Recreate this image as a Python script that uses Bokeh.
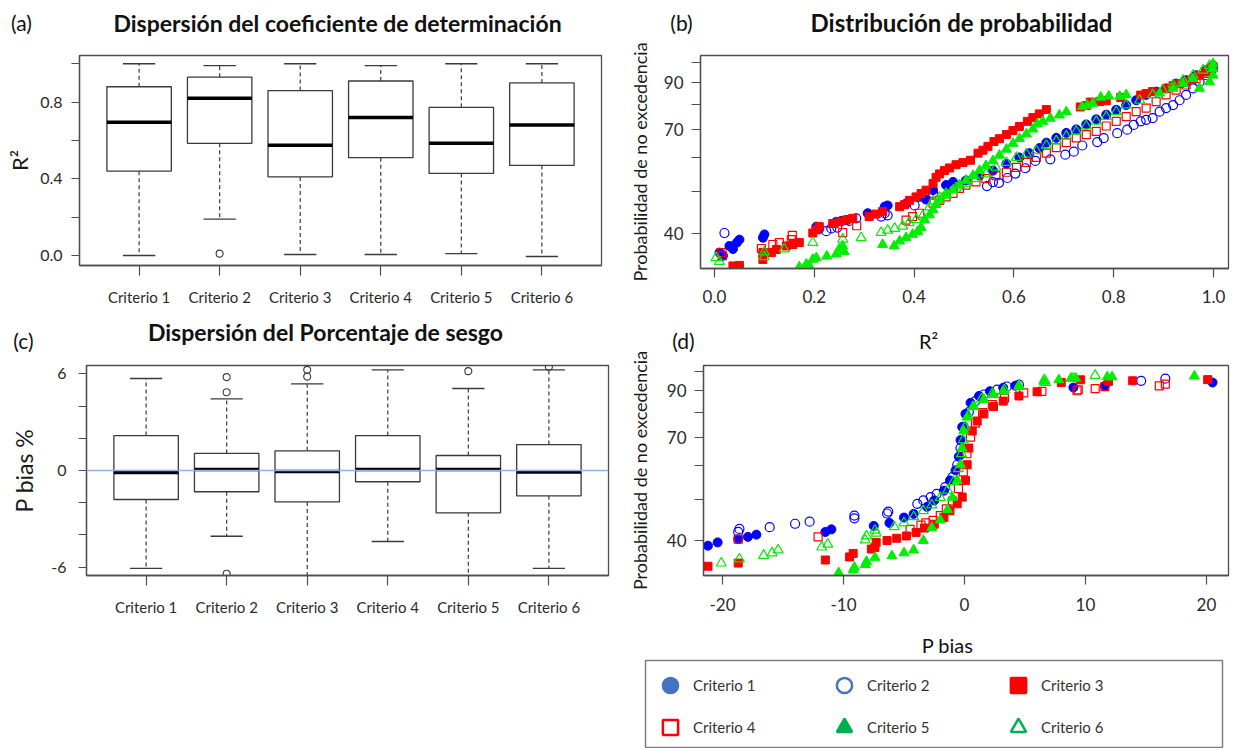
import math
import numpy as np
from bokeh.plotting import figure
from bokeh.models import (ColumnDataSource, FixedTicker, Span, Legend,
                          LegendItem, Range1d)
from bokeh.core.properties import value
from bokeh.layouts import row, column
from bokeh.embed import file_html
from bokeh.resources import INLINE

FONT = "Lato"
AX = "#4d4d4d"
TXT = "#2b2b2b"

# ---------------- data ----------------
criteria = ["Criterio 1", "Criterio 2", "Criterio 3", "Criterio 4", "Criterio 5", "Criterio 6"]
crit_pos = [1, 2, 3, 4, 5, 6]

# (a) R2 box statistics
r2_low = [0.0, 0.19, 0.005, 0.005, 0.01, -0.005]
r2_q1 = [0.44, 0.585, 0.41, 0.51, 0.428, 0.47]
r2_med = [0.695, 0.82, 0.575, 0.72, 0.585, 0.68]
r2_q3 = [0.88, 0.93, 0.86, 0.91, 0.773, 0.90]
r2_up = [1.0, 0.99, 1.0, 0.99, 1.0, 1.0]
r2_out_x = [2]
r2_out_y = [0.01]

# (c) P bias box statistics
pb_low = [-6.08, -4.08, -7.5, -4.41, -7.5, -6.08]
pb_q1 = [-1.8, -1.32, -1.95, -0.7, -2.63, -1.57]
pb_med = [-0.12, 0.06, -0.06, 0.06, 0.06, -0.1]
pb_q3 = [2.17, 1.06, 1.22, 2.17, 0.93, 1.61]
pb_up = [5.71, 4.45, 5.38, 6.25, 5.09, 6.25]
pb_out_x = [2, 2, 2, 3, 3, 5, 6]
pb_out_y = [5.8, 4.86, -6.41, 5.83, 6.25, 6.17, 6.45]

# (b) R2 vs probability of non-exceedance (%)
b_c1 = [(0.010,36.0),(0.017,35.4),(0.030,37.3),(0.037,36.7),(0.045,38.0),(0.050,38.6),(0.097,39.0),(0.100,39.7),(0.204,41.4),(0.210,40.9),(0.244,42.5),(0.254,42.7),(0.264,42.9),(0.307,44.5),(0.341,46.1),(0.347,46.4),(0.384,46.9),(0.411,48.6),(0.424,47.9),(0.438,50.4),(0.464,51.8),(0.478,52.7),(0.504,53.1),(0.531,54.5),(0.558,56.0),(0.585,58.1),(0.611,60.1),(0.631,61.5),(0.651,63.2),(0.665,65.1),(0.685,66.8),(0.705,68.6),(0.725,69.9),(0.745,71.8),(0.765,73.8),(0.785,75.7),(0.805,77.7),(0.825,79.7),(0.845,81.8),(0.865,84.2),(0.885,85.7),(0.905,87.2),(0.925,89.5),(0.945,91.1),(0.965,93.6),(0.985,96.2),(0.999,98.6)]
b_c2 = [(0.020,40.0),(0.224,40.4),(0.234,41.0),(0.246,41.2),(0.270,42.7),(0.284,43.3),(0.334,43.7),(0.341,44.5),(0.347,44.0),(0.401,46.4),(0.438,49.5),(0.478,51.3),(0.546,51.5),(0.558,52.6),(0.570,52.4),(0.587,53.8),(0.603,55.1),(0.623,56.7),(0.643,59.0),(0.673,59.5),(0.703,61.0),(0.720,62.0),(0.737,64.1),(0.767,65.3),(0.780,66.7),(0.807,68.5),(0.827,69.8),(0.840,71.6),(0.854,73.0),(0.865,73.6),(0.878,74.3),(0.892,76.9),(0.905,78.4),(0.919,79.7),(0.932,81.8),(0.945,84.2),(0.959,87.2),(0.972,90.3),(0.985,93.6),(0.999,97.0)]
b_c3 = [(0.037,33.5),(0.050,33.6),(0.097,34.7),(0.097,36.0),(0.114,36.0),(0.124,36.6),(0.144,37.3),(0.157,37.6),(0.170,38.0),(0.197,40.0),(0.204,40.7),(0.210,41.4),(0.237,42.1),(0.250,42.5),(0.264,42.9),(0.277,43.3),(0.310,43.7),(0.324,44.3),(0.337,44.9),(0.371,46.1),(0.381,46.6),(0.391,47.7),(0.404,48.6),(0.414,49.5),(0.424,50.4),(0.438,52.2),(0.444,54.0),(0.451,55.0),(0.461,56.0),(0.471,56.8),(0.484,57.8),(0.498,58.5),(0.513,59.2),(0.528,61.5),(0.538,62.5),(0.548,63.8),(0.560,65.5),(0.571,66.5),(0.585,68.0),(0.598,69.5),(0.611,71.0),(0.627,73.0),(0.638,74.5),(0.651,76.0),(0.665,77.8),(0.733,78.9),(0.745,79.5),(0.753,81.0),(0.772,81.2),(0.785,81.6),(0.814,83.0),(0.854,84.1),(0.865,84.8),(0.878,85.7),(0.905,87.2),(0.919,88.5),(0.932,89.5),(0.945,90.6),(0.959,91.9),(0.972,93.6),(0.985,95.3),(0.995,97.0)]
b_c4 = [(0.013,36.0),(0.016,35.4),(0.094,36.8),(0.117,37.6),(0.130,38.0),(0.154,38.6),(0.156,39.5),(0.240,42.1),(0.257,40.1),(0.285,41.6),(0.384,42.9),(0.397,43.7),(0.411,44.5),(0.438,47.0),(0.451,47.7),(0.464,48.6),(0.478,49.5),(0.491,50.9),(0.504,51.8),(0.524,52.7),(0.544,53.6),(0.564,54.5),(0.585,55.5),(0.605,57.0),(0.625,58.5),(0.645,60.1),(0.665,61.5),(0.685,63.4),(0.705,65.1),(0.725,66.8),(0.745,68.0),(0.765,69.2),(0.785,71.2),(0.805,73.0),(0.825,74.9),(0.845,76.9),(0.865,78.4),(0.885,81.2),(0.905,84.2),(0.925,86.4),(0.945,88.8),(0.965,91.9),(0.985,94.5),(0.999,97.8)]
b_c5 = [(0.170,33.3),(0.184,33.8),(0.190,33.5),(0.197,34.7),(0.204,35.0),(0.225,35.3),(0.244,35.7),(0.250,36.7),(0.257,37.3),(0.260,36.2),(0.337,37.6),(0.360,37.3),(0.371,38.3),(0.384,39.0),(0.397,39.7),(0.407,40.3),(0.414,41.2),(0.421,42.9),(0.431,44.1),(0.438,45.3),(0.444,46.6),(0.451,47.7),(0.464,49.0),(0.478,50.4),(0.491,51.8),(0.504,53.1),(0.518,54.5),(0.531,56.0),(0.544,57.5),(0.558,59.0),(0.571,60.8),(0.585,62.8),(0.598,64.8),(0.611,66.5),(0.625,68.2),(0.638,70.0),(0.647,72.0),(0.658,73.0),(0.673,74.2),(0.691,75.5),(0.705,76.8),(0.737,79.0),(0.747,79.6),(0.758,80.4),(0.774,83.1),(0.790,83.6),(0.812,83.5),(0.825,84.2),(0.892,85.0),(0.919,87.2),(0.939,89.5),(0.959,91.9),(0.972,87.2),(0.992,90.3),(0.999,93.6),(0.999,97.0),(0.999,99.5)]
b_c6 = [(0.003,35.0),(0.010,34.3),(0.100,36.1),(0.100,35.2),(0.140,36.7),(0.197,38.0),(0.257,38.7),(0.294,39.0),(0.334,40.1),(0.347,40.6),(0.361,41.0),(0.377,41.5),(0.390,42.3),(0.404,43.0),(0.417,43.8),(0.431,46.0),(0.438,47.5),(0.451,48.5),(0.464,49.5),(0.484,51.0),(0.504,52.2),(0.524,53.6),(0.544,55.0),(0.564,57.0),(0.585,58.5),(0.605,60.1),(0.625,61.2),(0.645,62.3),(0.665,64.2),(0.685,65.7),(0.705,67.4),(0.725,69.2),(0.745,71.2),(0.765,73.0),(0.785,74.9),(0.805,76.9),(0.825,79.7),(0.852,81.8),(0.878,84.2),(0.898,86.4),(0.919,88.8),(0.939,91.1),(0.959,93.6),(0.979,96.2),(0.992,98.6)]

# (d) P bias vs probability of non-exceedance (%)
d_c1 = [(-21.2,38.9),(-20.4,39.6),(-18.7,40.3),(-17.9,40.8),(-17.2,41.3),(-11.5,41.9),(-11.0,42.5),(-7.5,43.3),(-6.2,44.0),(-5.0,45.3),(-4.2,46.2),(-3.1,48.0),(-2.5,49.7),(-1.7,52.4),(-1.2,55.4),(-0.74,58.5),(-0.47,63.0),(-0.33,68.9),(-0.19,74.0),(0.08,79.4),(0.5,84.3),(1.2,87.5),(2.1,89.8),(3.2,91.5),(4.2,92.5),(9.0,91.6),(11.6,92.4),(20.5,94.1)]
d_c2 = [(-18.7,41.9),(-18.6,42.6),(-16.1,43.0),(-14.0,43.8),(-12.8,44.3),(-9.1,45.1),(-9.1,45.8),(-6.4,46.3),(-6.3,46.8),(-3.9,48.8),(-3.4,49.7),(-2.8,50.6),(-2.3,51.5),(-1.6,53.4),(-1.0,56.4),(-0.6,60.3),(-0.33,66.0),(-0.06,74.0),(0.36,80.2),(0.9,85.1),(1.6,88.2),(2.7,90.6),(3.5,92.1),(4.5,93.0),(14.6,95.0),(16.6,96.1)]
d_c3 = [(-21.2,34.8),(-18.7,35.4),(-11.5,36.0),(-9.5,36.6),(-9.2,37.3),(-7.7,38.2),(-7.4,38.5),(-7.3,39.6),(-6.4,40.0),(-5.6,40.5),(-4.8,41.0),(-4.0,41.8),(-3.3,42.8),(-2.5,43.7),(-1.7,45.3),(-1.2,47.0),(-0.6,48.8),(-0.19,50.6),(0.08,55.4),(0.22,60.3),(0.36,66.0),(0.64,72.4),(1.05,76.4),(1.6,79.4),(2.4,82.6),(3.2,85.1),(4.5,87.5),(6.0,89.5),(8.0,94.1),(9.6,95.5),(11.9,94.7),(13.9,95.0),(20.1,95.6)]
d_c4 = [(-18.7,40.3),(-12.1,40.8),(-4.5,42.5),(-3.6,43.5),(-3.2,44.0),(-2.6,44.6),(-2.0,45.8),(-1.5,47.5),(-1.0,49.5),(-0.5,53.0),(-0.1,58.0),(0.2,64.0),(0.5,70.0),(0.9,75.5),(1.5,80.0),(2.3,83.5),(3.3,86.5),(4.9,89.0),(6.4,89.7),(9.3,90.0),(9.4,90.5),(10.8,91.1),(11.6,92.0),(16.1,92.4),(16.6,93.3)]
d_c5 = [(-10.4,33.6),(-9.2,34.1),(-9.1,34.6),(-8.2,35.1),(-8.1,35.7),(-7.4,36.5),(-6.0,36.8),(-5.0,37.4),(-4.2,38.0),(-3.4,40.0),(-2.7,42.9),(-2.0,44.7),(-1.4,47.3),(-1.0,50.5),(-0.6,55.4),(-0.33,60.3),(-0.2,66.0),(-0.06,72.4),(0.22,78.0),(0.77,82.6),(1.6,85.9),(2.4,88.2),(3.2,89.8),(4.5,92.0),(6.55,94.7),(7.8,95.5),(8.8,96.3),(9.2,96.3),(11.8,97.0),(12.2,97.0),(19.0,97.4)]
d_c6 = [(-20.1,35.4),(-18.6,36.2),(-16.6,36.9),(-15.9,37.4),(-15.4,38.0),(-11.8,38.6),(-11.3,39.2),(-8.2,40.1),(-8.1,41.0),(-7.3,41.6),(-7.4,42.3),(-5.8,43.1),(-5.0,44.0),(-4.2,45.5),(-3.4,47.0),(-2.7,48.5),(-2.0,50.5),(-1.4,52.5),(-0.9,55.0),(-0.5,59.0),(-0.25,64.0),(-0.1,69.0),(0.05,74.0),(0.3,78.5),(0.7,82.5),(1.4,86.0),(2.3,88.5),(3.3,90.5),(4.5,92.5),(6.6,95.5),(6.7,94.1),(9.0,96.3),(10.8,97.8)]

prob_ticks = [40, 50, 60, 70, 80, 90, 100]
prob_labels = {40: "40", 50: "", 60: "", 70: "70", 80: "", 90: "90", 100: ""}
r2_ticks = [0.0, 0.2, 0.4, 0.6, 0.8, 1.0]
r2_box_labels = {0.0: "0.0", 0.2: "", 0.4: "0.4", 0.6: "", 0.8: "0.8", 1.0: ""}
r2_x_labels = {0.0: "0.0", 0.2: "0.2", 0.4: "0.4", 0.6: "0.6", 0.8: "0.8", 1.0: "1.0"}
pb_ticks = [-6, -4, -2, 0, 2, 4, 6]
pb_box_labels = {-6: "-6", -4: "", -2: "", 0: "0", 2: "", 4: "", 6: "6"}
bias_ticks = [-20, -10, 0, 10, 20]
bias_labels = {-20: "-20", -10: "-10", 0: "0", 10: "10", 20: "20"}

plot_colors = ["#0000ff", "#0000ff", "#ff0000", "#ff0000", "#00ee00", "#00ee00"]
legend_colors = ["#4472c4", "#4472c4", "#ff0000", "#ff0000", "#00b050", "#00b050"]
marker_kind = ["circle", "circle", "square", "square", "triangle", "triangle"]
marker_filled = [True, False, True, False, True, False]
marker_size = [9, 9, 8, 8, 10, 10]

# ---------------- geometry (page pixels, page origin at 0,0) ----------------
GA = dict(left=79, right=601, top=55, bottom=265, x=(0.26, 6.74), y=(-0.052, 1.043), log=False)
GB = dict(left=700, right=1228, top=55, bottom=268, x=(-0.028, 1.030), y=(33.04, 104.1), log=True)
GC = dict(left=86, right=608, top=365, bottom=575, x=(0.26, 6.74), y=(-6.52, 6.52), log=False)
GD = dict(left=703, right=1228, top=365, bottom=575, x=(-21.57, 21.82), y=(33.1, 103.2), log=True)


def make_fig(g, ox, oy, w, h):
    p = figure(width=w, height=h,
               x_range=Range1d(*g["x"]), y_range=Range1d(*g["y"]),
               y_axis_type="log" if g["log"] else "linear",
               min_border_left=g["left"] - ox, min_border_right=ox + w - g["right"],
               min_border_top=g["top"] - oy, min_border_bottom=oy + h - g["bottom"],
               output_backend="svg", toolbar_location=None, frame_align=False)
    p.xgrid.visible = False
    p.ygrid.visible = False
    p.outline_line_color = AX
    p.outline_line_width = 1.3
    p.outline_line_alpha = 1.0
    p.background_fill_color = "white"
    p.border_fill_color = "white"
    for ax in p.axis:
        ax.axis_line_color = AX
        ax.axis_line_width = 1.3
        ax.major_tick_line_color = AX
        ax.major_tick_line_width = 1.2
        ax.minor_tick_line_color = None
        ax.major_tick_in = 0
        ax.major_label_text_font = FONT
        ax.major_label_text_color = TXT
        ax.axis_label_text_font = FONT
        ax.axis_label_text_font_style = "normal"
        ax.axis_label_text_color = "#1a1a1a"
    return p


def make_strip(ox, oy, w, h):
    s = figure(width=w, height=h, x_range=Range1d(ox, ox + w), y_range=Range1d(oy + h, oy),
               x_axis_type=None, y_axis_type=None, output_backend="svg",
               toolbar_location=None, min_border_left=0, min_border_right=0,
               min_border_top=0, min_border_bottom=0, frame_align=False)
    s.xgrid.visible = False
    s.ygrid.visible = False
    s.outline_line_color = None
    s.border_fill_color = "white"
    return s


def strip_text(s, px, py, txt, size="21px", bold=False):
    s.text(x=[px], y=[py], text=[txt], text_font=value(FONT), text_font_size=value(size),
           text_font_style="bold" if bold else "normal", text_align="center",
           text_baseline="middle", text_color="#111111")


def boxplot(p, low, q1, med, q3, up, out_x, out_y):
    x = np.array(crit_pos, dtype=float)
    box_col = "#3a3a3a"
    p.segment(x0=x, y0=q3, x1=x, y1=up, line_color=box_col, line_width=1.2, line_dash="4 3")
    p.segment(x0=x, y0=q1, x1=x, y1=low, line_color=box_col, line_width=1.2, line_dash="4 3")
    p.segment(x0=x - 0.2, y0=up, x1=x + 0.2, y1=up, line_color=box_col, line_width=1.4)
    p.segment(x0=x - 0.2, y0=low, x1=x + 0.2, y1=low, line_color=box_col, line_width=1.4)
    p.vbar(x=x, width=0.8, bottom=q1, top=q3, fill_color="white",
           line_color=box_col, line_width=1.3)
    p.segment(x0=x - 0.4, y0=med, x1=x + 0.4, y1=med, line_color="#000000", line_width=3.5)
    p.scatter(out_x, out_y, marker="circle", size=7, fill_color=None,
              line_color=box_col, line_width=1.1)


def category_axis(p, size="15px"):
    p.xaxis.ticker = FixedTicker(ticks=crit_pos)
    p.xaxis.major_label_overrides = {i: c for i, c in zip(crit_pos, criteria)}
    p.xaxis.major_label_text_font_size = size
    p.xaxis.major_tick_out = 10
    p.xaxis.major_label_standoff = 12


def add_points(p, series, i):
    xs = [a for a, _ in series]
    ys = [b for _, b in series]
    kw = dict(marker=marker_kind[i], size=marker_size[i], line_color=plot_colors[i],
              line_width=1.2 if not marker_filled[i] else 1.0)
    kw["fill_color"] = plot_colors[i] if marker_filled[i] else None
    p.scatter(xs, ys, **kw)


# ---------------- left column ----------------
sa = make_strip(0, 0, 620, 40)
strip_text(sa, 21, 22, "(a)")
strip_text(sa, 337, 22, "Dispersión del coeficiente de determinación", size="23px", bold=True)

pa = make_fig(GA, 0, 40, 620, 278)
boxplot(pa, r2_low, r2_q1, r2_med, r2_q3, r2_up, r2_out_x, r2_out_y)
category_axis(pa)
pa.yaxis.ticker = FixedTicker(ticks=r2_ticks)
pa.yaxis.major_label_overrides = r2_box_labels
pa.yaxis.major_label_text_font_size = "16px"
pa.yaxis.major_tick_out = 8
pa.yaxis.major_label_standoff = 9
pa.yaxis.axis_label = "R²"
pa.yaxis.axis_label_text_font_size = "22px"
pa.yaxis.axis_label_standoff = 4

sc = make_strip(0, 318, 620, 34)
strip_text(sc, 325, 331, "Dispersión del Porcentaje de sesgo", size="23px", bold=True)
strip_text(sc, 23, 340, "(c)")

pc = make_fig(GC, 0, 352, 620, 303)
boxplot(pc, pb_low, pb_q1, pb_med, pb_q3, pb_up, pb_out_x, pb_out_y)
pc.add_layout(Span(location=0, dimension="width", line_color="#8fb0e3", line_width=1.6,
                   level="overlay"))
category_axis(pc)
pc.yaxis.ticker = FixedTicker(ticks=pb_ticks)
pc.yaxis.major_label_overrides = pb_box_labels
pc.yaxis.major_label_text_font_size = "16px"
pc.yaxis.major_tick_out = 8
pc.yaxis.major_label_standoff = 12
pc.yaxis.axis_label = "P bias %"
pc.yaxis.axis_label_text_font_size = "23px"
pc.yaxis.axis_label_standoff = 10

# ---------------- right column ----------------
sb = make_strip(620, 0, 613, 40)
strip_text(sb, 681, 22, "(b)")
strip_text(sb, 961, 22, "Distribución de probabilidad", size="24px", bold=True)

pb = make_fig(GB, 620, 40, 613, 287)
for i, s in enumerate([b_c1, b_c2, b_c3, b_c4, b_c5, b_c6]):
    add_points(pb, s, i)
pb.xaxis.ticker = FixedTicker(ticks=r2_ticks)
pb.xaxis.major_label_overrides = r2_x_labels
pb.yaxis.ticker = FixedTicker(ticks=prob_ticks)
pb.yaxis.major_label_overrides = prob_labels
pb.yaxis.axis_label = "Probabilidad de no excedencia"
pb.yaxis.axis_label_text_font_size = "18px"
pb.yaxis.axis_label_standoff = 10
for ax in pb.axis:
    ax.major_tick_out = 9
    ax.major_label_text_font_size = "17px"
pb.xaxis.major_label_standoff = 12
pb.yaxis.major_label_standoff = 8

sd = make_strip(620, 327, 613, 25)
strip_text(sd, 683, 340, "(d)")
strip_text(sd, 928, 340, "R²", size="20px")

pd_ = make_fig(GD, 620, 352, 613, 276)
for i, s in enumerate([d_c1, d_c2, d_c3, d_c4, d_c5, d_c6]):
    add_points(pd_, s, i)
pd_.xaxis.ticker = FixedTicker(ticks=bias_ticks)
pd_.xaxis.major_label_overrides = bias_labels
pd_.yaxis.ticker = FixedTicker(ticks=prob_ticks)
pd_.yaxis.major_label_overrides = prob_labels
pd_.yaxis.axis_label = "Probabilidad de no excedencia"
pd_.yaxis.axis_label_text_font_size = "18px"
pd_.yaxis.axis_label_standoff = 13
for ax in pd_.axis:
    ax.major_tick_out = 9
    ax.major_label_text_font_size = "17px"
pd_.xaxis.major_label_standoff = 13
pd_.yaxis.major_label_standoff = 8

se = make_strip(620, 628, 613, 27)
strip_text(se, 947, 644, "P bias", size="20px")

# ---------------- legend ----------------
pl = figure(width=613, height=93, x_range=Range1d(0, 1), y_range=Range1d(0, 1),
            x_axis_type=None, y_axis_type=None, output_backend="svg",
            toolbar_location=None, min_border_left=25, min_border_right=11,
            min_border_top=5, min_border_bottom=0, frame_align=False)
pl.xgrid.visible = False
pl.ygrid.visible = False
pl.outline_line_color = "#7f7f7f"
pl.outline_line_width = 1.5
pl.border_fill_color = "white"
items = []
for i, name in enumerate(criteria):
    # proxy glyph kept outside the visible range; only its legend swatch is shown
    src = ColumnDataSource(data=dict(x=[5.0], y=[5.0]))
    r = pl.scatter("x", "y", source=src, marker=marker_kind[i], size=12,
                   line_color=legend_colors[i], line_width=2.5,
                   fill_color=legend_colors[i] if marker_filled[i] else None)
    items.append(LegendItem(label=name, renderers=[r]))
leg = Legend(items=items, location="top_left", orientation="horizontal", ncols=3,
             glyph_width=38, glyph_height=38, label_width=128, label_height=38,
             label_standoff=4, spacing=4, padding=0, margin=6,
             label_text_font=FONT, label_text_font_size="15px", label_text_color="#333333",
             border_line_color=None, background_fill_alpha=0)
pl.add_layout(leg)

layout = row(column(sa, pa, sc, pc), column(sb, pb, sd, pd_, se, pl))
open("out.html", "w").write(file_html(layout, INLINE, "chart"))
